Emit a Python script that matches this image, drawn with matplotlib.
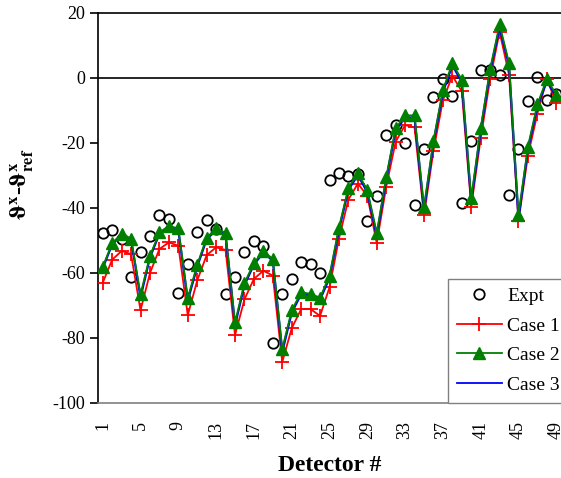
import matplotlib.pyplot as plt

plt.rcParams['font.family'] = ['Liberation Serif', 'DejaVu Serif']
plt.rcParams['mathtext.fontset'] = 'stix'
plt.rcParams['axes.unicode_minus'] = False

# Data
detectors = list(range(1, 50))
expt = [-47.7, -47.0, -49.7, -61.4, -53.5, -48.7, -42.1, -43.6, -66.3, -57.3,
        -47.4, -43.8, -46.5, -66.5, -61.4, -53.6, -50.2, -51.9, -81.7, -66.7,
        -61.9, -56.8, -57.2, -60.1, -31.6, -29.4, -30.4, -29.6, -44.1, -36.5,
        -17.7, -14.6, -20.0, -39.3, -22.0, -6.0, -0.5, -5.5, -38.7, -19.6,
        2.4, 2.5, 0.7, -36.0, -22.0, -7.2, 0.3, -6.8, -5.0]
case1 = [-63.1, -56.0, -53.3, -54.3, -71.6, -60.1, -52.7, -50.7, -51.7, -73.1,
         -62.4, -54.6, -52.2, -53.0, -79.2, -68.2, -61.9, -59.4, -60.9, -87.5,
         -77.1, -71.2, -71.2, -73.3, -64.5, -49.5, -37.5, -32.6, -36.3, -50.9,
         -33.6, -19.7, -14.6, -15.3, -42.4, -22.5, -7.0, 0.6, -4.2, -39.7,
         -18.7, -0.4, 14.1, 0.9, -44.1, -24.0, -11.1, -0.4, -7.8]
case2 = [-58.2, -50.9, -48.0, -49.5, -66.7, -54.8, -47.6, -45.6, -46.4, -67.8,
         -57.5, -49.2, -46.4, -47.7, -75.3, -63.2, -57.0, -53.3, -55.8, -83.4,
         -71.6, -66.0, -66.5, -67.7, -60.9, -46.1, -33.9, -29.4, -34.5, -47.7,
         -30.6, -15.6, -11.6, -11.6, -39.7, -19.4, -3.8, 4.4, -0.6, -37.0,
         -15.5, 2.7, 16.4, 4.5, -42.1, -21.2, -8.2, -0.4, -5.2]
case3 = [-58.6, -51.3, -48.3, -49.9, -67.6, -55.3, -48.0, -46.0, -46.9, -68.6,
         -58.1, -49.7, -46.9, -48.2, -76.2, -63.8, -57.5, -53.8, -56.3, -84.4,
         -72.3, -66.6, -67.0, -68.3, -61.6, -46.8, -34.5, -30.0, -35.2, -48.6,
         -31.3, -16.2, -12.2, -12.3, -40.8, -20.1, -4.5, 3.8, -1.3, -38.2,
         -16.3, 2.0, 15.4, 3.8, -43.4, -22.0, -8.9, -1.0, -5.9]
xticks = list(range(1, 50, 4))

fig = plt.figure(figsize=(5.61, 4.78), dpi=100)
ax = fig.add_axes([0.1747, 0.1575, 0.8253, 0.816])

ax.plot(detectors, expt, 'o', color='black', mfc='none', mew=1.3, ms=7.5,
        label='Expt', zorder=2)
ax.plot(detectors, case1, '-', color='red', lw=1.3, marker='+', ms=10, mew=1.3,
        label='Case 1', zorder=3)
ax.plot(detectors, case3, '-', color='blue', lw=1.6, zorder=4)
ax.plot(detectors, case2, '-', color='green', lw=1.3, marker='^', ms=8,
        mfc='green', mec='green', zorder=5)
# legend proxies (Case 2 drawn with green line, Case 3 blue line)
h2, = ax.plot([], [], '-', color='green', lw=1.3, marker='^', ms=8, label='Case 2')
h3, = ax.plot([], [], '-', color='blue', lw=1.3, label='Case 3')

ax.axhline(0, color='black', lw=1.2, zorder=1)

ax.set_xlim(0.5, 49.5)
ax.set_ylim(-100, 20)
ax.set_yticks(range(-100, 21, 20))
ax.set_xticks(xticks)
ax.set_xticklabels([str(v) for v in xticks], rotation=90, fontsize=13)
ax.tick_params(axis='y', labelsize=13, direction='out', length=6, width=1.2)
ax.tick_params(axis='x', length=0, pad=13)

ax.spines['right'].set_visible(False)
ax.spines['top'].set_linewidth(1.2)
ax.spines['left'].set_linewidth(1.2)
ax.spines['bottom'].set_color('gray')
ax.spines['bottom'].set_linewidth(1.2)

ax.set_xlabel('Detector #', fontsize=17, fontweight='bold')
ax.set_ylabel(r'$\boldsymbol{\vartheta}^{\mathbf{x}}$-$\boldsymbol{\vartheta}^{\mathbf{x}}_{\mathbf{ref}}$',
              fontsize=17, fontweight='bold')
ax.yaxis.set_label_coords(-0.135, 0.56)
ax.xaxis.set_label_coords(0.5, -0.135)

handles, labels = ax.get_legend_handles_labels()
leg = ax.legend(handles, labels, loc='lower left', bbox_to_anchor=(0.756, 0.0),
                fontsize=14, frameon=True, fancybox=False, edgecolor='gray',
                framealpha=1, borderaxespad=0, handlelength=2.3,
                handletextpad=0.3, labelspacing=0.62, borderpad=0.45)
leg.get_frame().set_linewidth(1.0)

plt.savefig('out.png', dpi=100)
